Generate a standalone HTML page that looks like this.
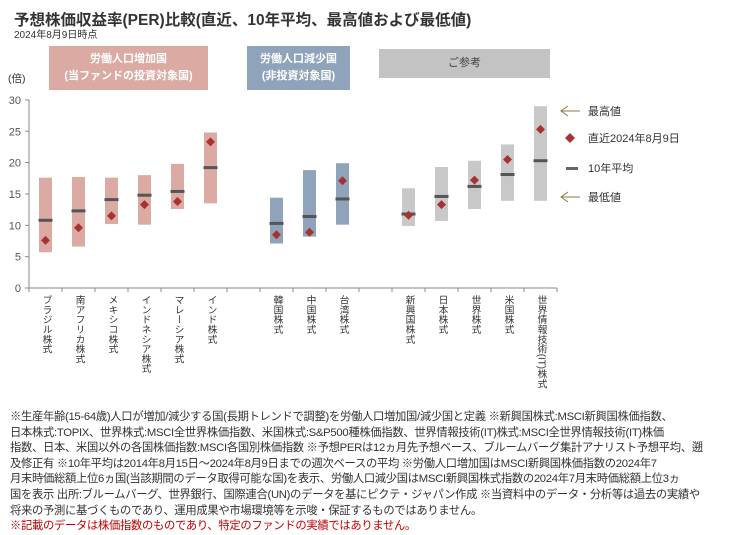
<!DOCTYPE html>
<html><head><meta charset="utf-8"><style>
body{margin:0;width:735px;height:521px;background:#fff;font-family:"Liberation Sans","Noto Sans CJK JP",sans-serif;position:relative;overflow:hidden;color:#333}
.t{position:absolute;white-space:nowrap}
.hb{position:absolute;color:#fff;font-weight:bold;font-size:11px;text-align:center;display:flex;align-items:center;justify-content:center;line-height:17px}
.xl{position:absolute;top:295px;writing-mode:vertical-rl;font-size:9.8px;color:#333;line-height:10px}
#foot{position:absolute;left:10px;top:410px;font-size:11.3px;line-height:15.6px;color:#333;white-space:nowrap;letter-spacing:-0.3px}
</style></head><body>
<div class="t" style="left:14px;top:8px;font-size:15.5px;font-weight:bold;color:#333">予想株価収益率(PER)比較(直近、10年平均、最高値および最低値)</div>
<div class="t" style="left:14px;top:26px;font-size:10px">2024年8月9日時点</div>
<div class="hb" style="left:49px;top:46px;width:159px;height:44px;background:#dbaaa3">労働人口増加国<br>(当ファンドの投資対象国)</div>
<div class="hb" style="left:247px;top:46px;width:103px;height:44px;background:#8fa3bb">労働人口減少国<br>(非投資対象国)</div>
<div class="hb" style="left:379px;top:49px;width:171px;height:29px;background:#c3c3c3;color:#444;font-weight:normal">ご参考</div>
<div class="t" style="left:8px;top:71px;font-size:10.5px">(倍)</div>
<svg id="chart" width="735" height="521" style="position:absolute;left:0;top:0"></svg>
<div id="xlabels"></div>
<div id="foot">※生産年齢(15-64歳)人口が増加/減少する国(長期トレンドで調整)を労働人口増加国/減少国と定義 ※新興国株式:MSCI新興国株価指数、<br>日本株式:TOPIX、世界株式:MSCI全世界株価指数、米国株式:S&amp;P500種株価指数、世界情報技術(IT)株式:MSCI全世界情報技術(IT)株価<br>指数、日本、米国以外の各国株価指数:MSCI各国別株価指数 ※予想PERは12ヵ月先予想ベース、ブルームバーグ集計アナリスト予想平均、遡<br>及修正有 ※10年平均は2014年8月15日～2024年8月9日までの週次ベースの平均 ※労働人口増加国はMSCI新興国株価指数の2024年7<br>月末時価総額上位6ヵ国(当該期間のデータ取得可能な国)を表示、労働人口減少国はMSCI新興国株式指数の2024年7月末時価総額上位3ヵ<br>国を表示 出所:ブルームバーグ、世界銀行、国際連合(UN)のデータを基にピクテ・ジャパン作成 ※当資料中のデータ・分析等は過去の実績や<br>将来の予測に基づくものであり、運用成果や市場環境等を示唆・保証するものではありません。<br><span style="color:#c00000">※記載のデータは株価指数のものであり、特定のファンドの実績ではありません。</span></div>
<script>
const categories=["ブラジル株式","南アフリカ株式","メキシコ株式","インドネシア株式","マレーシア株式","インド株式","","韓国株式","中国株式","台湾株式","","新興国株式","日本株式","世界株式","米国株式","世界情報技術(IT)株式"];
const highValues=[17.6,17.7,17.6,18.0,19.8,24.8,null,14.4,18.8,19.9,null,15.9,19.3,20.3,22.9,29.0];
const lowValues=[5.7,6.6,10.2,10.1,12.6,13.5,null,7.1,8.2,10.1,null,9.9,10.7,12.6,13.9,13.9];
const avgValues=[10.8,12.3,14.1,14.8,15.4,19.2,null,10.3,11.4,14.2,null,11.8,14.6,16.2,18.1,20.3];
const latestValues=[7.6,9.6,11.5,13.3,13.8,23.3,null,8.5,8.9,17.1,null,11.6,13.3,17.2,20.5,25.3];
const groups=["inc","inc","inc","inc","inc","inc","","dec","dec","dec","","ref","ref","ref","ref","ref"];
const yTicks=[0,5,10,15,20,25,30];
const X0=29,SLOT=33,Y0=288,PPU=6.27;
const colors={inc:"#dbaaa3",dec:"#8fa3bb",ref:"#c8c8c8"};
const xs=i=>X0+SLOT*i+SLOT/2, ys=v=>Y0-v*PPU;
const svg=document.getElementById('chart'),NS="http://www.w3.org/2000/svg";
function mk(t,a){const e=document.createElementNS(NS,t);for(const k in a)e.setAttribute(k,a[k]);svg.appendChild(e);return e;}
let e;
e=mk('line',{x1:X0,y1:ys(30),x2:X0,y2:Y0,stroke:'#888'});


e=mk('line',{x1:X0,y1:Y0,x2:X0+SLOT*categories.length,y2:Y0,stroke:'#888'});


yTicks.forEach(v=>{
  mk('line',{x1:X0-4,y1:ys(v),x2:X0,y2:ys(v),stroke:'#888'});
  e=mk('text',{x:X0-8,y:ys(v)+4,'text-anchor':'end','font-size':11,fill:'#555'});e.textContent=v;
  
  
});
for(let i=0;i<=categories.length;i++)mk('line',{x1:X0+SLOT*i,y1:Y0,x2:X0+SLOT*i,y2:Y0+4,stroke:'#888'});
const xl=document.getElementById('xlabels');
categories.forEach((c,i)=>{
  if(highValues[i]==null)return;
  const cx=xs(i);
  e=mk('rect',{x:cx-6.5,y:ys(highValues[i]),width:13,height:ys(lowValues[i])-ys(highValues[i]),fill:colors[groups[i]]});
  
  
  e=mk('rect',{x:cx-7,y:ys(avgValues[i])-1.5,width:14,height:3,fill:'#555'});
  
  
  const py=ys(latestValues[i]);
  e=mk('polygon',{points:`${cx},${py-4.5} ${cx+4.5},${py} ${cx},${py+4.5} ${cx-4.5},${py}`,fill:'#a83232'});
  
  
  const d=document.createElement('div');d.className='xl';d.textContent=c;d.style.left=(cx-5)+'px';
  
  
  xl.appendChild(d);
});
function arrow(y){mk('path',{d:`M580 ${y} H561 M568 ${y-5} L561 ${y} L568 ${y+5}`,stroke:'#8a7a40',fill:'none','stroke-width':1});}
function lt(y,s){const t=mk('text',{x:588,y:y+4,'font-size':11,fill:'#333'});t.textContent=s;}
arrow(111);lt(111,'最高値');
mk('polygon',{points:'570,133 575,138 570,143 565,138',fill:'#a83232'});lt(138,'直近2024年8月9日');
mk('rect',{x:566,y:167,width:12,height:3,fill:'#666'});lt(168,'10年平均');
arrow(197);lt(197,'最低値');
</script>
</body></html>
